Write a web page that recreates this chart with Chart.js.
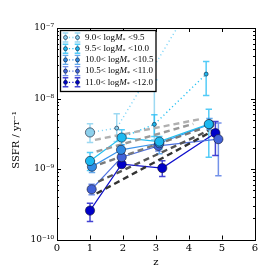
<!DOCTYPE html>
<html><head><meta charset="utf-8">
<script src="https://cdn.jsdelivr.net/npm/chart.js@4.4.0/dist/chart.umd.min.js"></script>
<style>html,body{margin:0;padding:0;background:#fff;} canvas{display:block}</style>
</head><body>
<canvas id="c" width="269" height="269"></canvas>
<script>
// ---- data ----
const xTicks = [0,1,2,3,4,5,6];
const yDecades = [1e-10,1e-9,1e-8,1e-7];
const binLo = ['9.0','9.5','10.0','10.5','11.0'];
const binHi = ['9.5','10.0','10.5','11.0','12.0'];

// large markers, solid lines
const zBig1 = [1.0];                    const sBig1 = [3.3e-9];
const hiBig1 = [4.37e-9];               const loBig1 = [2.37e-9];
const zBig2 = [1.0,1.96,3.1,4.6];       const sBig2 = [1.3e-9,2.79e-9,2.45e-9,4.33e-9];
const hiBig2 = [1.71e-9,3.59e-9,2.9e-9,7.06e-9];  const loBig2 = [9.5e-10,2.2e-9,1.9e-9,1.47e-9];
const zBig3 = [1.06,1.94,3.1,4.62];     const sBig3 = [1.08e-9,1.87e-9,2.32e-9,4.3e-9];
const hiBig3 = [1.3e-9,2.2e-9,2.65e-9,5.2e-9];    const loBig3 = [8.9e-10,1.6e-9,1.64e-9,3.6e-9];
const zBig4 = [1.05,1.96,3.07,4.89];    const sBig4 = [5.16e-10,1.47e-9,2.13e-9,2.65e-9];
const hiBig4 = [6.1e-10,1.7e-9,2.5e-9,4.48e-9];   const loBig4 = [4.3e-10,1.25e-9,1.8e-9,8.0e-10];
const zBig5 = [1.0,1.96,3.19,4.8];      const sBig5 = [2.57e-10,1.17e-9,1.03e-9,3.23e-9];
const hiBig5 = [3.27e-10,1.35e-9,1.31e-9,4.7e-9]; const loBig5 = [1.8e-10,1.05e-9,7.8e-10,1.55e-9];

// dotted lines with small markers
const zDot1 = [1.0,1.81,4.6];           const sDot1 = [3.3e-9,3.8e-9,5.6e-7];
const zDot2 = [1.96,2.95,4.52];         const sDot2 = [2.79e-9,4.3e-9,2.22e-8];
const zSmall1 = [1.81];                 const sSmall1 = [3.8e-9];
const hiSmallZ1 = [1.81,2.95];          const hiSmall1 = [6.1e-9,1.84e-8];  const loSmall1 = [2.45e-9,2.6e-9];
const zSmall2 = [2.95,4.52];            const sSmall2 = [4.3e-9,2.22e-8];
const hiSmall2 = [5.9e-9,3.36e-8];      const loSmall2 = [2.9e-9,1.1e-8];

// grey dashed model tracks
const modelZ = [[1.15,4.33],[1.2,4.13],[1.3,4.43],[1.25,4.59],[1.2,4.74]];
const modelS = [[2.59e-9,5.09e-9],[1.77e-9,4.37e-9],[1.17e-9,3.8e-9],[6.6e-10,3.5e-9],[4.5e-10,3.5e-9]];

// ---- styles ----
const mColors = ['#8dd0ec','#1cb9f0','#2f8be4','#4262d8','#0000c8'];
const lColors = ['#80d6f8','#25c0f2','#3a93ec','#4f72e0','#1010cc'];
const eColors = ['rgba(140,210,240,0.85)','rgba(40,190,245,0.8)','rgba(50,140,230,0.75)','rgba(70,110,225,0.75)','rgba(20,20,200,0.8)'];
const greys = ['#b0b0b0','#999999','#7a7a7a','#555555','#333333'];
const SERIF = '"DejaVu Serif", "Liberation Serif", serif';
const LSERIF = '"Liberation Serif", "DejaVu Serif", serif';

const pts = (z,s) => z.map((v,i)=>({x:v,y:s[i]}));
const bigZ = [zBig1,zBig2,zBig3,zBig4,zBig5];
const bigS = [sBig1,sBig2,sBig3,sBig4,sBig5];
const bigHi = [hiBig1,hiBig2,hiBig3,hiBig4,hiBig5];
const bigLo = [loBig1,loBig2,loBig3,loBig4,loBig5];

const datasets = [];
[[zDot1,sDot1,0],[zDot2,sDot2,1]].forEach(([z,s,k])=>{
  datasets.push({data:pts(z,s), borderColor:lColors[k], borderWidth:1.4, borderDash:[1.2,2.8],
    pointRadius:0, fill:false, tension:0, order:5, clip:0});
});
for (let k=0;k<5;k++){
  datasets.push({data:pts(bigZ[k],bigS[k]), borderColor:lColors[k], borderWidth:1.2,
    pointRadius:0, fill:false, tension:0, order:4, clip:0});
}
for (let k=0;k<5;k++){
  datasets.push({data:pts(modelZ[k],modelS[k]), borderColor:greys[k], borderWidth:2.4, borderDash:[6,4],
    pointRadius:0, fill:false, tension:0, order:3, clip:0});
}
for (let k=0;k<5;k++){
  datasets.push({data:pts(bigZ[k],bigS[k]), showLine:false, pointRadius:4.6, pointBackgroundColor:mColors[k],
    pointBorderColor:'rgba(20,20,40,0.85)', pointBorderWidth:0.7, order:2, clip:0});
}
[[zSmall1,sSmall1,0],[zSmall2,sSmall2,1]].forEach(([z,s,k])=>{
  datasets.push({data:pts(z,s), showLine:false, pointRadius:2, pointBackgroundColor:mColors[k],
    pointBorderColor:'rgba(10,30,60,0.9)', pointBorderWidth:0.7, order:1, clip:0});
});

const errSets = [];
for (let k=0;k<5;k++) errSets.push({z:bigZ[k], hi:bigHi[k], lo:bigLo[k], c:eColors[k]});
errSets.push({z:hiSmallZ1, hi:hiSmall1, lo:loSmall1, c:eColors[0]});
errSets.push({z:zSmall2, hi:hiSmall2, lo:loSmall2, c:eColors[1]});

const sup = {'-':'\u207B','0':'\u2070','1':'\u00B9','2':'\u00B2','3':'\u00B3','4':'\u2074','5':'\u2075','6':'\u2076','7':'\u2077','8':'\u2078','9':'\u2079'};
const fmtPow = v => '10' + String(Math.round(Math.log10(v))).split('').map(ch=>sup[ch]).join('');

const errPlugin = {
  id:'err',
  beforeDatasetsDraw(chart){
    const {ctx, chartArea:a, scales:{x,y}} = chart;
    ctx.save();
    ctx.beginPath(); ctx.rect(a.left,a.top,a.right-a.left,a.bottom-a.top); ctx.clip();
    errSets.forEach(e=>{
      ctx.strokeStyle = e.c; ctx.lineWidth = 1.5;
      e.z.forEach((z,i)=>{
        const px = x.getPixelForValue(z), p1 = y.getPixelForValue(e.hi[i]), p2 = y.getPixelForValue(e.lo[i]);
        ctx.beginPath();
        ctx.moveTo(px,p1); ctx.lineTo(px,p2);
        ctx.moveTo(px-3.2,p1); ctx.lineTo(px+3.2,p1);
        ctx.moveTo(px-3.2,p2); ctx.lineTo(px+3.2,p2);
        ctx.stroke();
      });
    });
    ctx.restore();
  }
};

const framePlugin = {
  id:'frame',
  afterDraw(chart){
    const {ctx, chartArea:a, scales:{x,y}} = chart;
    ctx.save();
    ctx.strokeStyle = '#000'; ctx.lineWidth = 1;
    ctx.strokeRect(Math.round(a.left)+0.5, Math.round(a.top)+0.5, Math.round(a.right-a.left), Math.round(a.bottom-a.top));
    ctx.beginPath();
    xTicks.forEach(t=>{
      const px = Math.round(x.getPixelForValue(t))+0.5;
      ctx.moveTo(px,a.bottom); ctx.lineTo(px,a.bottom-4);
      ctx.moveTo(px,a.top); ctx.lineTo(px,a.top+4);
    });
    yDecades.forEach((d,i)=>{
      const py = Math.round(y.getPixelForValue(d))+0.5;
      ctx.moveTo(a.left,py); ctx.lineTo(a.left+4,py);
      ctx.moveTo(a.right,py); ctx.lineTo(a.right-4,py);
      if (i<yDecades.length-1){
        for (let m=2;m<10;m++){
          const pm = Math.round(y.getPixelForValue(d*m))+0.5;
          ctx.moveTo(a.left,pm); ctx.lineTo(a.left+2,pm);
          ctx.moveTo(a.right,pm); ctx.lineTo(a.right-2,pm);
        }
      }
    });
    ctx.stroke();

    ctx.fillStyle = '#000';
    ctx.font = '10px ' + SERIF;
    ctx.textAlign = 'center'; ctx.textBaseline = 'middle';
    ctx.fillText('z', (a.left+a.right)/2, 262);
    ctx.save();
    ctx.translate(16, 140); ctx.rotate(-Math.PI/2);
    ctx.fillText('SSFR / yr\u207B\u00B9', 0, 0);
    ctx.restore();

    // legend
    const lx = 60, ly = 30, lw = 95.5, lh = 61;
    ctx.fillStyle = '#fff'; ctx.fillRect(lx,ly,lw,lh);
    ctx.strokeStyle = '#000'; ctx.lineWidth = 1.3; ctx.strokeRect(lx+0.5,ly+0.5,lw,lh);
    for (let k=0;k<5;k++){
      const cy = 37.5 + k*11.2;
      const x1 = 65.5, x2 = 77.5;
      ctx.strokeStyle = eColors[k]; ctx.lineWidth = 1.4;
      ctx.beginPath();
      [x1,x2].forEach(xx=>{
        ctx.moveTo(xx,cy-4.5); ctx.lineTo(xx,cy+4.5);
        ctx.moveTo(xx-2.8,cy-4.5); ctx.lineTo(xx+2.8,cy-4.5);
        ctx.moveTo(xx-2.8,cy+4.5); ctx.lineTo(xx+2.8,cy+4.5);
      });
      ctx.stroke();
      ctx.strokeStyle = lColors[k]; ctx.lineWidth = 1.3; ctx.setLineDash([1.2,2.2]);
      ctx.beginPath(); ctx.moveTo(x1,cy); ctx.lineTo(x2,cy); ctx.stroke(); ctx.setLineDash([]);
      [x1,x2].forEach(xx=>{
        ctx.beginPath(); ctx.arc(xx,cy,2,0,Math.PI*2);
        ctx.fillStyle = mColors[k]; ctx.fill();
        ctx.strokeStyle = 'rgba(10,30,60,0.9)'; ctx.lineWidth = 0.7; ctx.stroke();
      });
      ctx.fillStyle = '#000'; ctx.textAlign = 'left'; ctx.textBaseline = 'middle';
      let tx = 85;
      ctx.font = '9px ' + LSERIF;
      const p1 = binLo[k] + '< log';
      ctx.fillText(p1, tx, cy); tx += ctx.measureText(p1).width;
      ctx.font = 'italic 9px ' + LSERIF;
      ctx.fillText('M', tx, cy); tx += ctx.measureText('M').width;
      ctx.font = '6px ' + LSERIF;
      ctx.fillText('*', tx, cy+2.5); tx += ctx.measureText('*').width + 2.5;
      ctx.font = '9px ' + LSERIF;
      ctx.fillText('<' + binHi[k], tx, cy);
    }
    ctx.restore();
  }
};

new Chart(document.getElementById('c'), {
  type:'line',
  data:{datasets},
  options:{
    responsive:false, animation:false, devicePixelRatio:1,
    layout:{padding:{top:28, right:14, left:0, bottom:0}},
    plugins:{legend:{display:false}, tooltip:{enabled:false}},
    scales:{
      x:{type:'linear', min:0, max:6,
        afterBuildTicks: s => { s.ticks = xTicks.map(v=>({value:v})); },
        ticks:{color:'#000', font:{family:SERIF, size:10}, padding:3, callback:v=>String(v), autoSkip:false, maxRotation:0},
        grid:{display:false, drawTicks:false}, border:{display:false},
        afterFit: s => { s.height = 29.5; }
      },
      y:{type:'logarithmic', min:1e-10, max:1e-7,
        afterBuildTicks: s => { s.ticks = yDecades.map(v=>({value:v})); },
        ticks:{color:'#000', font:{family:SERIF, size:9}, padding:3, callback:v=>fmtPow(v), autoSkip:false},
        grid:{display:false, drawTicks:false}, border:{display:false},
        afterFit: s => { s.width = 57; }
      }
    }
  },
  plugins:[errPlugin, framePlugin]
});
</script>
</body></html>
